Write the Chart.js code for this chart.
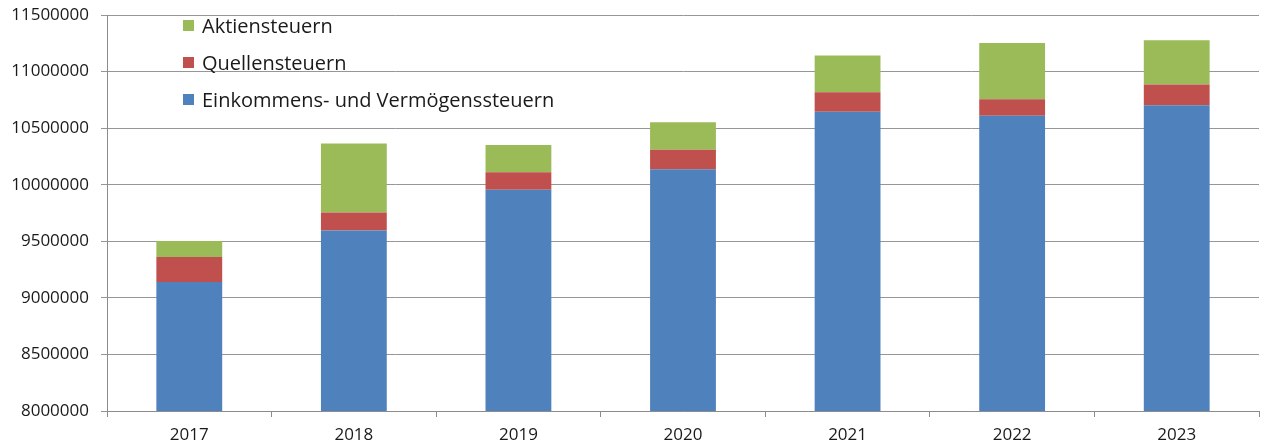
<!DOCTYPE html>
<html>
<head>
<meta charset="utf-8">
<script src="https://cdn.jsdelivr.net/npm/chart.js@4/dist/chart.umd.min.js"></script>
<style>
  html, body { margin: 0; padding: 0; background: #fff; }
  #wrap { position: relative; width: 1264px; height: 446px; }
  #legend { position: absolute; left: 183px; top: 11px; font-family: "Open Sans", sans-serif; font-size: 20px; color: #1a1a1a; }
  #legend div { height: 37px; line-height: 30px; white-space: nowrap; }
  #legend span.sw { display: inline-block; width: 11px; height: 11px; margin-right: 8px; vertical-align: 2px; }
</style>
</head>
<body>
<div id="wrap">
  <canvas id="taxChart" width="1264" height="446"></canvas>
  <div id="legend"></div>
</div>
<script>
// Steuereinnahmen nach Jahr
const years = ['2017', '2018', '2019', '2020', '2021', '2022', '2023'];
const einkommen = [9140000, 9595000, 9955000, 10136000, 10645000, 10610000, 10703000];
const quellen = [222000, 160000, 155000, 173000, 173000, 145000, 183000];
const aktien = [140000, 610000, 240000, 242000, 325000, 497000, 391000];
const yTicks = [8000000, 8500000, 9000000, 9500000, 10000000, 10500000, 11000000, 11500000];

const seriesNames = ['Einkommens- und Vermögenssteuern', 'Quellensteuern', 'Aktiensteuern'];
const seriesColors = ['#4F81BD', '#C0504D', '#9BBB59'];
const seriesData = [einkommen, quellen, aktien];

// legend, top entry = last series
const legendEl = document.getElementById('legend');
for (let i = seriesNames.length - 1; i >= 0; i--) {
    const row = document.createElement('div');
    row.innerHTML = '<span class="sw" style="background:' + seriesColors[i] + '"></span>' + seriesNames[i];
    legendEl.appendChild(row);
}

const ctx = document.getElementById('taxChart').getContext('2d');
new Chart(ctx, {
    type: 'bar',
    data: {
        labels: years,
        datasets: seriesData.map((d, i) => ({
            label: seriesNames[i],
            data: d,
            backgroundColor: seriesColors[i],
            borderWidth: 0,
            barPercentage: 0.4,
            categoryPercentage: 1.0
        }))
    },
    options: {
        responsive: false,
        animation: false,
        devicePixelRatio: 1,
        layout: {
            padding: { left: 0, right: 5, top: 15, bottom: 0 }
        },
        plugins: {
            legend: { display: false },
            tooltip: { enabled: false }
        },
        scales: {
            x: {
                stacked: true,
                offset: true,
                grid: {
                    offset: true,
                    drawOnChartArea: false,
                    drawTicks: true,
                    tickLength: 6,
                    color: '#8c8c8c'
                },
                border: { color: '#8c8c8c', width: 1 },
                ticks: {
                    color: '#1a1a1a',
                    padding: 8,
                    font: { family: 'Open Sans', size: 17 }
                },
                afterFit: function(scale) {
                    scale.height = 35;
                    scale.paddingLeft = 0;
                    scale.paddingRight = 0;
                }
            },
            y: {
                stacked: true,
                min: 8000000,
                max: 11500000,
                afterBuildTicks: function(scale) {
                    scale.ticks = yTicks.map(v => ({ value: v }));
                },
                grid: {
                    color: '#969696',
                    lineWidth: 1,
                    tickLength: 6
                },
                border: { color: '#8c8c8c', width: 1 },
                ticks: {
                    color: '#1a1a1a',
                    padding: 12,
                    font: { family: 'Open Sans', size: 17 },
                    callback: function(value) { return String(value); }
                },
                afterFit: function(scale) {
                    scale.width = 107;
                    scale.paddingTop = 0;
                    scale.paddingBottom = 0;
                }
            }
        }
    }
});
</script>
</body>
</html>
